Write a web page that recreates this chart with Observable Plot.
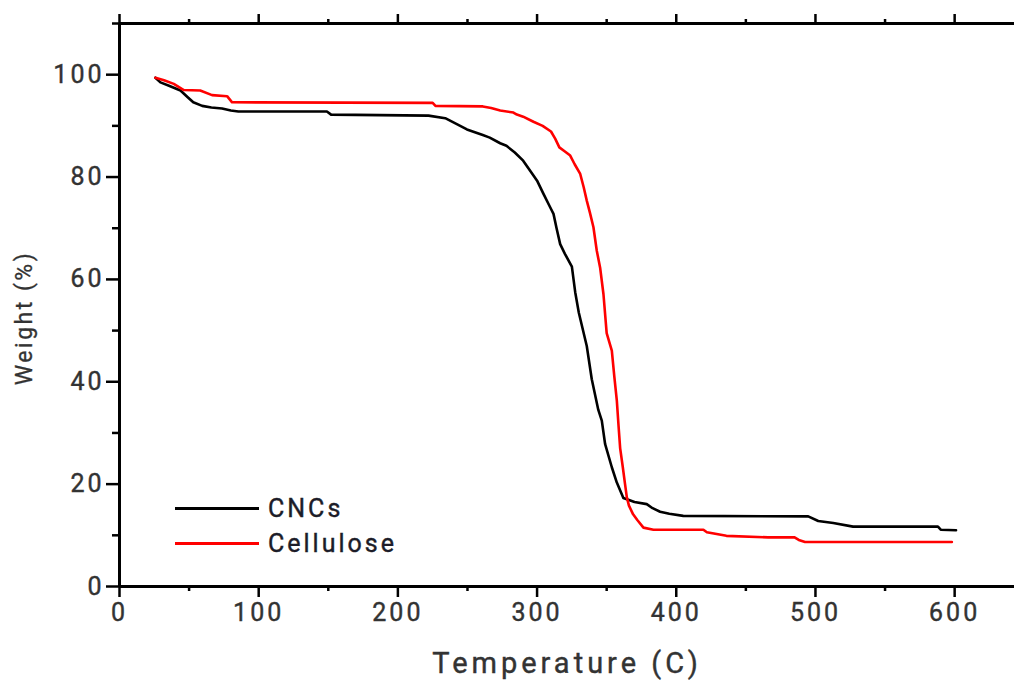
<!DOCTYPE html>
<html>
<head>
<meta charset="utf-8">
<script src="https://cdn.jsdelivr.net/npm/d3@7"></script>
<script src="https://cdn.jsdelivr.net/npm/@observablehq/plot@0.6"></script>
<style>
  html, body { margin: 0; padding: 0; background: #fff; }
  #wrap { position: relative; width: 1014px; height: 681px; }
  #legend { position: absolute; left: 175px; top: 491px; font-family: Roboto, sans-serif; font-weight: 400; font-size: 25px; letter-spacing: 3px; color: #1c1c28; -webkit-text-stroke: 0.4px #1c1c28; }
  #legend .row { display: flex; align-items: center; height: 35px; }
  #legend .sw { width: 84px; height: 0; border-top: 3px solid; margin-right: 9px; }
  #ylabel { position: absolute; left: 24px; top: 318px; transform: translate(-50%, -50%) rotate(-90deg); white-space: nowrap; font-family: Roboto, sans-serif; font-weight: 400; font-size: 23px; letter-spacing: 2.5px; color: #333; -webkit-text-stroke: 0.3px #333; }
</style>
</head>
<body>
<div id="wrap"><div id="legend"></div><div id="ylabel"></div></div>
<script>
const seriesNames = ["CNCs", "Cellulose"];
const seriesColors = ["#000000", "#ff0000"];

const cncTemp = [25.8, 29.4, 36, 43.8, 49, 53, 59.4, 66, 73.7, 80, 85.4, 149, 152, 222, 234, 242, 249.6, 261, 266, 273.5, 278, 284, 290, 297.4, 300, 304.6, 309.4, 311.8, 314, 316.6, 320, 325, 327.4, 330, 335.7, 339.3, 344, 346.5, 348.9, 353.7, 357.3, 362, 370, 378.8, 383, 388.4, 395, 405, 494.8, 502, 512.8, 527, 588, 590, 601];
const cncWeight = [99.4, 98.5, 97.8, 96.9, 95.6, 94.6, 93.9, 93.6, 93.4, 93.0, 92.8, 92.8, 92.2, 92.0, 91.5, 90.4, 89.3, 88.2, 87.7, 86.6, 86.1, 84.8, 83.2, 80.3, 79.3, 76.7, 74.1, 72.8, 70.0, 66.9, 65.0, 62.5, 57.5, 53.5, 47.0, 40.5, 34.5, 32.4, 27.8, 23.3, 20.3, 17.3, 16.5, 16.1, 15.3, 14.6, 14.2, 13.8, 13.7, 12.8, 12.4, 11.7, 11.7, 11.1, 11.0];

const celTemp = [25.8, 32, 39, 46.2, 58, 66.5, 77.3, 80.9, 225, 227, 261, 267, 273.5, 283, 285.5, 290, 297.4, 304, 310, 313, 316, 320, 323.8, 327, 331, 333.5, 335.7, 338, 340.5, 342.9, 345.3, 347.7, 350, 353.7, 355.5, 357.3, 358.5, 359.7, 361.5, 363.2, 364.5, 366, 369, 372, 376.4, 383.6, 419.5, 422, 436, 466, 485, 488, 492.5, 598];
const celWeight = [99.4, 98.9, 98.2, 97.0, 96.9, 96.0, 95.8, 94.6, 94.5, 93.9, 93.8, 93.5, 93.0, 92.6, 92.2, 91.8, 90.8, 90.0, 88.9, 87.5, 85.8, 85.0, 84.2, 82.5, 80.6, 78.0, 75.4, 73.0, 70.2, 65.6, 62.3, 57.1, 49.5, 46.1, 41.0, 36.3, 31.5, 27.0, 23.5, 20.0, 17.4, 15.8, 14.1, 13.0, 11.5, 11.1, 11.1, 10.6, 9.9, 9.6, 9.6, 9.1, 8.7, 8.7];

const xMajorTicks = [0, 100, 200, 300, 400, 500, 600];
const xMinorTicks = [50, 150, 250, 350, 450, 550];
const yMajorTicks = [0, 20, 40, 60, 80, 100];
const yMinorTicks = [10, 30, 50, 70, 90, 110];
const xLabel = "Temperature (C)";
const yLabel = "Weight (%)";

const rows = [
  ...cncTemp.map((t, i) => ({series: seriesNames[0], t, w: cncWeight[i]})),
  ...celTemp.map((t, i) => ({series: seriesNames[1], t, w: celWeight[i]}))
];

const font = "Roboto, sans-serif";
const chart = Plot.plot({
  width: 1014,
  height: 681,
  marginLeft: 119,
  marginRight: 0,
  marginTop: 23,
  marginBottom: 95,
  style: {fontFamily: font, fontWeight: 400, background: "transparent", overflow: "visible"},
  x: {domain: [0, 643]},
  y: {domain: [0, 110]},
  color: {domain: seriesNames, range: seriesColors},
  marks: [
    Plot.axisX({ticks: xMinorTicks, tickSize: 5, text: null, label: null, strokeWidth: 2.5}),
    Plot.axisX({ticks: xMajorTicks, tickSize: 11, tickPadding: 6, fontSize: 25, fill: "#333", strokeWidth: 2.5, label: null}),
    Plot.axisX({anchor: "top", ticks: xMinorTicks, tickSize: 5, text: null, label: null, strokeWidth: 2.5}),
    Plot.axisX({anchor: "top", ticks: xMajorTicks, tickSize: 10, text: null, label: null, strokeWidth: 2.5}),
    Plot.axisY({ticks: yMinorTicks, tickSize: 7, text: null, label: null, strokeWidth: 2.5}),
    Plot.axisY({ticks: yMajorTicks, tickSize: 13, tickPadding: 2, fontSize: 25, fill: "#333", strokeWidth: 2.5, label: null}),
    Plot.ruleX([0], {strokeWidth: 3}),
    Plot.ruleY([0], {strokeWidth: 3}),
    Plot.ruleY([110], {strokeWidth: 3}),
    Plot.line(rows, {x: "t", y: "w", z: "series", stroke: "series", strokeWidth: 2.6}),
    Plot.text([xLabel], {frameAnchor: "bottom", dy: 77, lineAnchor: "middle", fontSize: 29, fill: "#333", text: d => d})
  ]
});
d3.select(chart).selectAll("text").style("letter-spacing", "3px").style("stroke", "#333").style("stroke-width", "0.4px");
d3.select(chart).selectAll("text").filter(function() { return this.textContent === xLabel; }).style("letter-spacing", "4px");
const wrap = document.getElementById("wrap");
wrap.insertBefore(chart, wrap.firstChild);

d3.select("#ylabel").text(yLabel);
const legend = d3.select("#legend");
seriesNames.forEach((name, i) => {
  const row = legend.append("div").attr("class", "row");
  row.append("div").attr("class", "sw").style("border-color", seriesColors[i]);
  row.append("span").text(name);
});
</script>
</body>
</html>
